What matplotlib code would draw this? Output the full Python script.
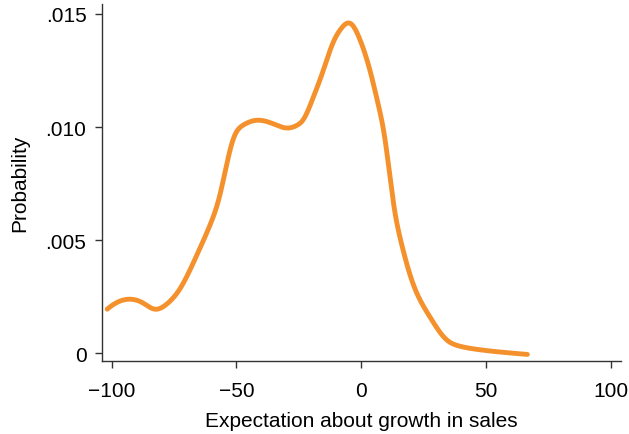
import numpy as np
import matplotlib.pyplot as plt
from scipy.interpolate import CubicSpline

plt.rcParams['font.family'] = ['Liberation Sans', 'DejaVu Sans']

# Kernel density of expected sales growth
growth = [-101.8, -93.4, -87.4, -82.7, -78.0, -72.7, -66.0, -60.7, -56.7, -53.4,
          -51.0, -47.4, -42.0, -35.4, -30.0, -25.4, -23.4, -19.4, -15.4, -11.4,
          -8.0, -4.3, -0.7, 3.3, 6.6, 9.3, 11.3, 13.3, 16.0, 20.6,
          27.3, 34.0, 39.3, 46.0, 55.3, 66.6]
density = [0.00195, 0.00239, 0.00222, 0.00195, 0.00217, 0.00284, 0.00431, 0.00564, 0.00697, 0.00860,
           0.00955, 0.01008, 0.01030, 0.01015, 0.00996, 0.01010, 0.01030, 0.01126, 0.01244, 0.01370,
           0.01436, 0.01458, 0.01392, 0.01259, 0.01111, 0.00963, 0.00801, 0.00638, 0.00491, 0.00313,
           0.00165, 0.00062, 0.00032, 0.00018, 0.00006, -0.00005]

xticks = [-100, -50, 0, 50, 100]
xtick_labels = ['\u2212100', '\u221250', '0', '50', '100']
yticks = [0, 0.005, 0.010, 0.015]
ytick_labels = ['0', '.005', '.010', '.015']

xs = np.linspace(growth[0], growth[-1], 800)
ys = CubicSpline(growth, density)(xs)

fig = plt.figure(figsize=(6.29, 4.35), dpi=100)
ax = fig.add_axes([0.1617, 0.1671, 0.8251, 0.8214])
ax.plot(xs, ys, color='#F5912C', lw=3.5, solid_capstyle='round', solid_joinstyle='round')

ax.set_xlim(-104, 104)
ax.set_ylim(-0.000354, 0.01544)
ax.set_xticks(xticks)
ax.set_xticklabels(xtick_labels)
ax.set_yticks(yticks)
ax.set_yticklabels(ytick_labels)

for side in ['top', 'right']:
    ax.spines[side].set_visible(False)
for side in ['left', 'bottom']:
    ax.spines[side].set_color('#333333')
    ax.spines[side].set_linewidth(1.0)
ax.tick_params(direction='out', length=5, width=1.0, color='#333333', labelsize=15)
ax.tick_params(axis='x', pad=9)
ax.tick_params(axis='y', pad=6)

ax.set_xlabel('Expectation about growth in sales', fontsize=15, labelpad=8)
ax.set_ylabel('Probability', fontsize=15, labelpad=12)

fig.savefig('out.png', dpi=100)
